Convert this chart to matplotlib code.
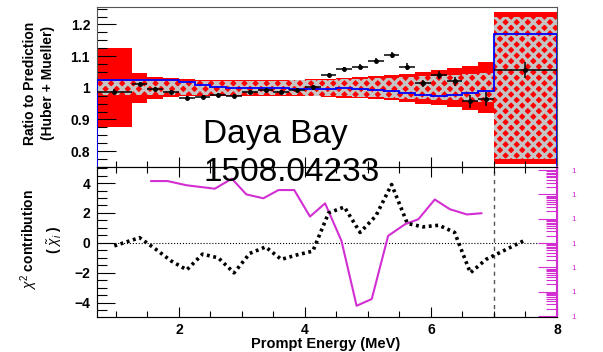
import numpy as np
import matplotlib.pyplot as plt
from matplotlib.ticker import MultipleLocator, FuncFormatter, LogLocator, NullFormatter, FixedLocator

plt.rcParams['font.family'] = ['Liberation Sans', 'DejaVu Sans']
plt.rcParams['mathtext.fontset'] = 'custom'
plt.rcParams['mathtext.rm'] = 'Liberation Sans'
plt.rcParams['mathtext.it'] = 'Liberation Sans:italic'
plt.rcParams['hatch.color'] = '#c4c4c4'
plt.rcParams['hatch.linewidth'] = 2.3

# bin edges (MeV)
edges = [0.7] + [1.25 + 0.25 * i for i in range(24)] + [8.0]

# data / prediction ratio
ratio = [0.988, 1.012, 0.997, 0.988, 0.968, 0.972, 0.977, 0.973, 0.987, 0.994,
         0.988, 0.992, 1.001, 1.040, 1.060, 1.067, 1.085, 1.103, 1.067, 1.015,
         1.040, 1.020, 0.957, 0.965, 1.056]
ratio_err = [0.008, 0.006, 0.006, 0.006, 0.006, 0.006, 0.006, 0.006, 0.006, 0.006,
             0.006, 0.006, 0.007, 0.007, 0.007, 0.008, 0.008, 0.009, 0.010, 0.011,
             0.013, 0.015, 0.020, 0.022, 0.025]

# model curve (blue)
model = [1.025, 1.025, 1.025, 1.025, 1.017, 1.010, 1.004, 0.999, 0.999, 0.998,
         0.998, 0.997, 0.997, 0.997, 0.998, 0.996, 0.994, 0.990, 0.982, 0.976,
         0.975, 0.977, 0.982, 0.990, 1.170]

# uncertainty bands (half widths around 1)
band_total = [0.125, 0.047, 0.035, 0.030, 0.027, 0.026, 0.025, 0.025, 0.025, 0.025,
              0.025, 0.026, 0.027, 0.029, 0.031, 0.033, 0.036, 0.040, 0.045, 0.050,
              0.055, 0.062, 0.070, 0.080, 0.240]
band_flux = [0.022, 0.022, 0.022, 0.022, 0.022, 0.022, 0.022, 0.022, 0.023, 0.023,
             0.023, 0.024, 0.025, 0.026, 0.027, 0.028, 0.030, 0.032, 0.034, 0.036,
             0.038, 0.040, 0.043, 0.046, 0.225]

# chi contribution per bin
chi = [-0.2, 0.35, -0.4, -1.2, -1.8, -0.75, -1.0, -2.0, -0.7, -0.27,
       -1.1, -0.8, -0.55, 2.0, 2.4, 0.7, 1.8, 3.9, 1.3, 1.07,
       1.18, 0.7, -2.0, -1.1, 0.2]

# magenta curve
mag_x = [1.56, 1.82, 2.12, 2.57, 2.84, 3.07, 3.34, 3.58, 3.83, 4.08, 4.32,
         4.58, 4.82, 5.06, 5.32, 5.59, 5.80, 6.06, 6.30, 6.57, 6.80]
mag_y = [4.13, 4.13, 3.85, 3.62, 4.29, 3.24, 2.98, 3.53, 3.53, 1.76, 2.64,
         0.13, -4.2, -3.75, 0.47, 1.25, 1.58, 2.9, 2.25, 1.9, 1.98]

# right-hand log axis decades
log_ticks = [1e-6, 1e-5, 1e-4, 1e-3, 1e-2, 1e-1, 1.0]

edges = np.array(edges)
centers = 0.5 * (edges[1:] + edges[:-1])
widths = edges[1:] - edges[:-1]
band_total = np.array(band_total)
band_flux = np.array(band_flux)

W, H = 603, 352
fig = plt.figure(figsize=(W / 100, H / 100), dpi=100)
left, right = 97 / W, 557 / W
ax = fig.add_axes([left, 1 - 167 / H, right - left, 160 / H])
axb = fig.add_axes([left, 1 - 317 / H, right - left, 150 / H])

# top panel
ax.bar(centers, 2 * band_total, bottom=1 - band_total, width=widths,
       color='red', linewidth=0, zorder=1)
ax.bar(centers, 2 * band_flux, bottom=1 - band_flux, width=widths,
       facecolor='red', edgecolor='#c4c4c4', hatch='xxx', linewidth=0, zorder=2)
ax.stairs(model, edges, color='blue', linewidth=1.3, zorder=3)
ax.errorbar(centers, ratio, xerr=widths / 2, yerr=ratio_err, fmt='o',
            color='black', markersize=2.5, elinewidth=1.1, capsize=0, zorder=4)

ax.set_xlim(0.7, 8)
ax.set_ylim(0.75, 1.255)
ax.yaxis.set_major_locator(MultipleLocator(0.1))
ax.yaxis.set_minor_locator(MultipleLocator(0.025))
ax.yaxis.set_major_formatter(FuncFormatter(lambda v, p: '%g' % round(v, 2)))
ax.xaxis.set_major_locator(MultipleLocator(2))
ax.xaxis.set_minor_locator(MultipleLocator(0.5))
ax.tick_params(axis='x', which='both', direction='in', labelbottom=False,
               length=7, width=0.8)
ax.tick_params(axis='x', which='minor', length=4)
ax.tick_params(axis='y', which='major', direction='in', length=14, width=0.8,
               labelsize=10, pad=5)
ax.tick_params(axis='y', which='minor', direction='in', length=7, width=0.8)
for lab in ax.get_yticklabels():
    lab.set_fontweight('bold')
for s in ax.spines.values():
    s.set_color('#555555')
    s.set_linewidth(0.8)

# bottom panel
axb.axhline(0, color='black', linestyle=':', linewidth=0.8, zorder=1)
axb.axvline(7, color='#555555', linestyle=(0, (3, 3)), linewidth=1, zorder=1)
axb.plot(centers, chi, color='black', linewidth=2.6,
         linestyle=(0, (0.8, 1.0)), zorder=3)
axb.plot(mag_x, mag_y, color='#d22ed2', linewidth=1.5, zorder=2)

axb.set_xlim(0.7, 8)
axb.set_ylim(-4.95, 5.07)
axb.xaxis.set_major_locator(MultipleLocator(2))
axb.xaxis.set_minor_locator(MultipleLocator(0.5))
axb.yaxis.set_major_locator(MultipleLocator(2))
axb.yaxis.set_minor_locator(MultipleLocator(0.5))
axb.yaxis.set_major_formatter(FuncFormatter(lambda v, p: ('\u2212%g' % -v) if v < 0 else '%g' % v))
axb.tick_params(axis='x', which='major', direction='in', top=True, length=7,
                width=0.8, labelsize=10, pad=4)
axb.tick_params(axis='x', which='minor', direction='in', top=True, length=4, width=0.8)
axb.tick_params(axis='y', which='major', direction='in', length=13, width=0.8,
                labelsize=10, pad=5)
axb.tick_params(axis='y', which='minor', direction='in', length=7, width=0.8)
for lab in axb.get_xticklabels() + axb.get_yticklabels():
    lab.set_fontweight('bold')
for s in axb.spines.values():
    s.set_color('#555555')
    s.set_linewidth(0.8)

# magenta log axis on the right
ax2 = axb.twinx()
ax2.set_yscale('log')
ax2.set_ylim(10 ** -6.04, 10 ** 0.13)
ax2.yaxis.set_major_locator(FixedLocator(log_ticks))
ax2.yaxis.set_minor_locator(LogLocator(base=10, subs=np.arange(2, 10) * 1.0,
                                       numticks=100))
ax2.yaxis.set_major_formatter(FuncFormatter(lambda v, p: '1'))
ax2.yaxis.set_minor_formatter(NullFormatter())
ax2.tick_params(axis='y', which='major', direction='in', length=14, width=0.8,
                colors='#d22ed2', labelsize=6, pad=10)
ax2.tick_params(axis='y', which='minor', direction='in', length=8, width=0.8,
                colors='#d22ed2')
ax2.spines['right'].set_color('#d22ed2')
ax2.spines['right'].set_linewidth(1.5)

# labels
fig.text(39 / W, 1 - 83 / H, 'Ratio to Prediction\n(Huber + Mueller)',
         rotation=90, ha='center', va='center', multialignment='center',
         fontsize=10, fontweight='bold', linespacing=1.45)
fig.text(41 / W, 1 - 240 / H, '$\\chi^2$ contribution\n( $\\tilde{\\chi}_i$ )',
         rotation=90, ha='center', va='center', multialignment='center',
         fontsize=10, fontweight='bold', linespacing=1.4)
fig.text(326 / W, 1 - 344 / H, 'Prompt Energy (MeV)', ha='center', va='center',
         fontsize=10.5, fontweight='bold')
fig.text(203 / W, 1 - 143 / H, 'Daya Bay', ha='left', va='baseline', fontsize=24)
fig.text(203 / W, 1 - 181 / H, '1508.04233', ha='left', va='baseline', fontsize=24)

fig.savefig('out.png', dpi=100)
